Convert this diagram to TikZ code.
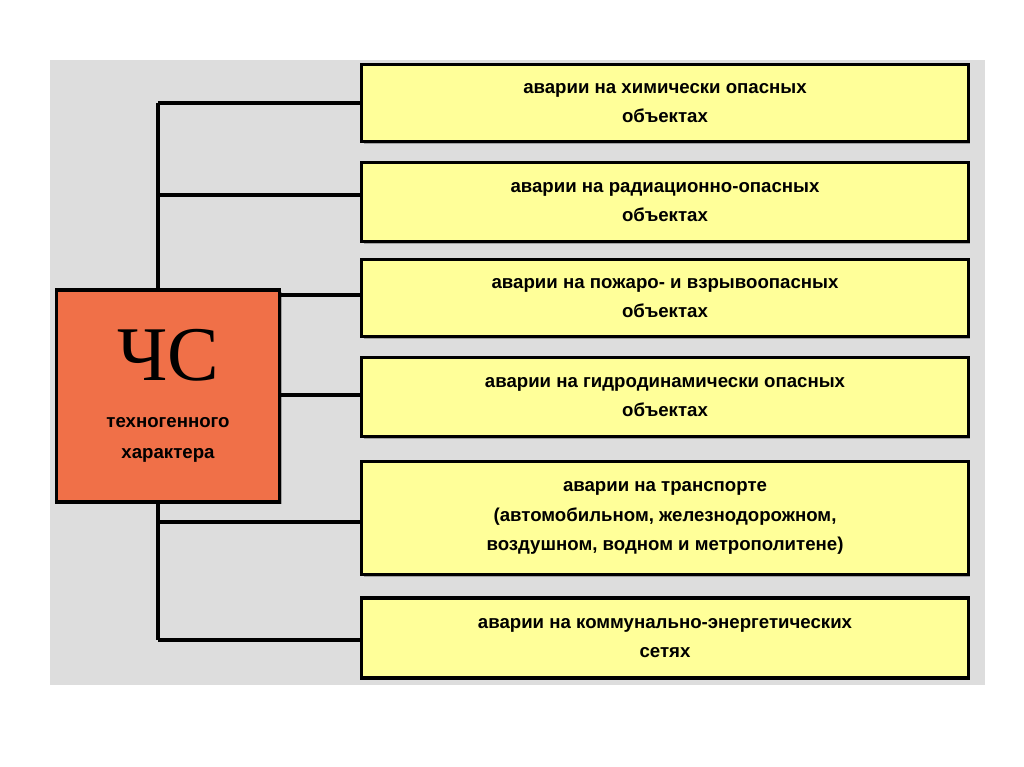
\documentclass[tikz,border=0pt]{standalone}
\usepackage{fontspec}
\setmainfont{Liberation Sans}
\newfontfamily\csfont{Liberation Serif}
\usetikzlibrary{shadows}
\definecolor{boxyellow}{RGB}{255,255,153}
\definecolor{boxred}{RGB}{240,112,72}
\definecolor{panelgray}{RGB}{221,221,221}
\tikzset{
  kind/.style={draw=black, line width=0.9pt, fill=boxyellow, minimum width=6.06cm, align=center,
    font=\fontsize{5.3pt}{8.4pt}\selectfont\bfseries, inner sep=0pt,
    drop shadow={shadow xshift=0.6pt, shadow yshift=-0.6pt, fill=black!60}},
  link/.style={line width=0.9pt}
}
\begin{document}
\begin{tikzpicture}[x=0.01cm,y=-0.01cm]
		\useasboundingbox (0,0) rectangle (1024,767);
		\fill[white] (0,0) rectangle (1024,767);
		\fill[panelgray] (50,60) rectangle (985,685);
		%
		\node[kind, minimum height=0.77cm] (k1) at (665,103) {аварии на химически опасных\\объектах};
		\node[kind, minimum height=0.79cm] (k2) at (665,202) {аварии на радиационно-опасных\\объектах};
		\node[kind, minimum height=0.77cm] (k3) at (665,298) {аварии на пожаро- и взрывоопасных\\объектах};
		\node[kind, minimum height=0.79cm] (k4) at (665,397) {аварии на гидродинамически опасных\\объектах};
		\node[kind, minimum height=1.13cm] (k5) at (665,518) {аварии на транспорте\\(автомобильном, железнодорожном,\\воздушном, водном и метрополитене)};
		\node[kind, minimum height=0.80cm] (k6) at (665,638) {аварии на коммунально-энергетических\\сетях};
		%
		\node[draw=black, line width=0.9pt, fill=boxred, minimum width=2.23cm, minimum height=2.12cm, inner sep=0pt, align=center,
		  font=\fontsize{5.3pt}{8.8pt}\selectfont\bfseries,
		  drop shadow={shadow xshift=0.6pt, shadow yshift=-0.6pt, fill=black!60}] (cs) at (168,396)
		  {{\csfont\mdseries\fontsize{22pt}{22pt}\selectfont ЧС}\\\rule{0pt}{12pt}техногенного\\характера};
		%
		\coordinate (top) at (158,103);
		\coordinate (bot) at (158,640);
		\draw[link] (top) -- (cs.north -| top);
		\draw[link] (cs.south -| bot) -- (bot);
		\draw[link] (top) -- (k1.west);
		\draw[link] (158,195) -- (k2.west |- 0,195);
		\draw[link] (cs.east |- 0,295) -- (k3.west |- 0,295);
		\draw[link] (cs.east |- 0,395) -- (k4.west |- 0,395);
		\draw[link] (158,522) -- (k5.west |- 0,522);
		\draw[link] (bot) -- (k6.west |- 0,640);
	\end{tikzpicture}
\end{document}
